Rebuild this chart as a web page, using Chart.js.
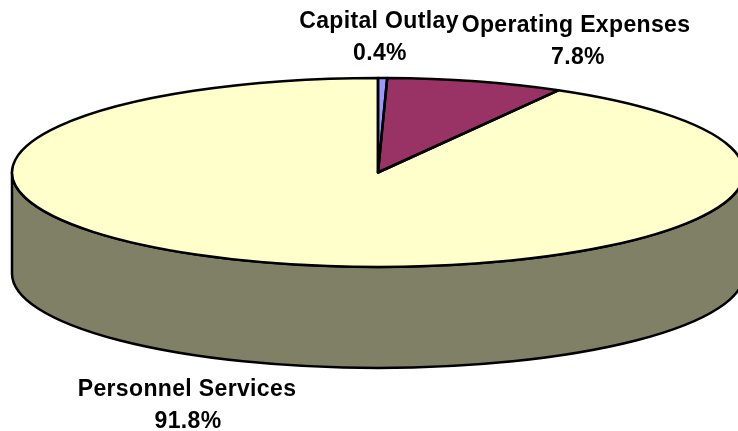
<!DOCTYPE html>
<html>
<head>
<meta charset="utf-8">
<style>
html,body{margin:0;padding:0;background:#fff;overflow:hidden}
#box{position:relative;width:738px;height:431px}
</style>
<script src="https://cdn.jsdelivr.net/npm/chart.js@4"></script>
</head>
<body>
<div id="box"><canvas id="c" width="738" height="431"></canvas></div>
<script>
const categories = ["Capital Outlay", "Operating Expenses", "Personnel Services"];
const shares = [0.4, 7.8, 91.8];
const shareLabels = ["0.4%", "7.8%", "91.8%"];
const topColors = ["#9999FF", "#993366", "#FFFFCC"];
const sideColors = ["#4D4D80", "#4D1A33", "#808066"];

const X_STRETCH = 366 / 94.5;
const DEPTH = 101;
const labelAnchors = [[379, 28, 380, 60], [576, 32, 578, 64], [187, 396, 188, 428]];

const pie3d = {
  id: "pie3d",
  beforeDatasetsDraw(chart) {
    const ctx = chart.ctx;
    const arcs = chart.getDatasetMeta(0).data;
    ctx.save();
    ctx.lineWidth = 2.5;
    ctx.strokeStyle = "#000";
    ctx.lineJoin = "round";
    arcs.forEach((a, i) => {
      const s = Math.max(a.startAngle, 0), e = Math.min(a.endAngle, Math.PI);
      if (e <= s) return;
      const rx = a.outerRadius * X_STRETCH, ry = a.outerRadius;
      ctx.beginPath();
      ctx.ellipse(a.x, a.y, rx, ry, 0, s, e);
      ctx.ellipse(a.x, a.y + DEPTH, rx, ry, 0, e, s, true);
      ctx.closePath();
      ctx.fillStyle = sideColors[i];
      ctx.fill();
      ctx.stroke();
    });
    ctx.restore();
    const a0 = arcs[0];
    ctx.save();
    ctx.translate(a0.x, a0.y);
    ctx.scale(X_STRETCH, 1);
    ctx.translate(-a0.x, -a0.y);
  },
  afterDatasetsDraw(chart) {
    const ctx = chart.ctx;
    ctx.restore();
    const arcs = chart.getDatasetMeta(0).data;
    ctx.save();
    ctx.lineWidth = 2.5;
    ctx.strokeStyle = "#000";
    ctx.lineJoin = "round";
    arcs.forEach(a => {
      ctx.beginPath();
      ctx.moveTo(a.x, a.y);
      ctx.ellipse(a.x, a.y, a.outerRadius * X_STRETCH, a.outerRadius, 0, a.startAngle, a.endAngle);
      ctx.closePath();
      ctx.stroke();
    });
    ctx.fillStyle = "#000";
    ctx.font = "bold 23px 'Liberation Sans', Arial, sans-serif";
    ctx.letterSpacing = "0.35px";
    ctx.textAlign = "center";
    ctx.textBaseline = "alphabetic";
    categories.forEach((name, i) => {
      const [x1, y1, x2, y2] = labelAnchors[i];
      ctx.fillText(name, x1, y1);
      ctx.fillText(shareLabels[i], x2, y2);
    });
    ctx.restore();
  }
};

new Chart(document.getElementById("c"), {
  type: "pie",
  data: {
    labels: categories,
    datasets: [{
      data: shares,
      backgroundColor: topColors,
      borderWidth: 0,
      clip: false
    }]
  },
  options: {
    responsive: false,
    animation: false,
    layout: { padding: { left: 18, right: 0, top: 78, bottom: 164 } },
    plugins: { legend: { display: false }, tooltip: { enabled: false }, title: { display: false } }
  },
  plugins: [pie3d]
});
</script>
</body>
</html>
